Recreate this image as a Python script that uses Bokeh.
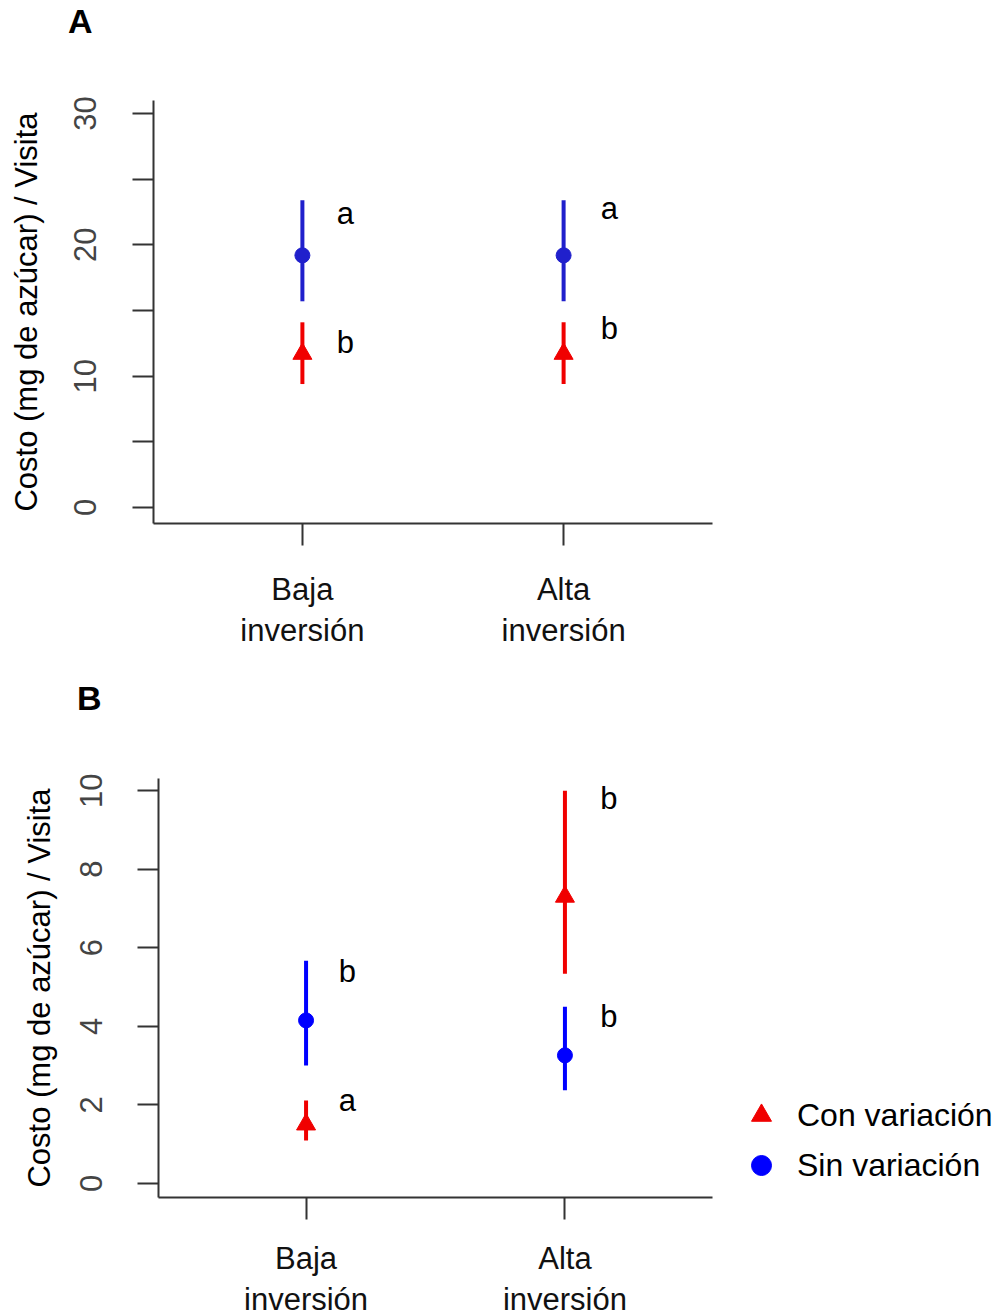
from bokeh.plotting import figure
from bokeh.layouts import column
from bokeh.models import ColumnDataSource, FixedTicker, Legend, LegendItem, Div
from bokeh.core.properties import value
from bokeh.embed import file_html
from bokeh.resources import INLINE

# ---------------- data ----------------
categories = ["Baja\ninversión", "Alta\ninversión"]
xpos = [1, 2]

# Panel A
a_sin_mean = [19.2, 19.2]
a_sin_lo = [15.7, 15.7]
a_sin_hi = [23.4, 23.4]
a_con_mean = [11.7, 11.7]
a_con_lo = [9.4, 9.4]
a_con_hi = [14.1, 14.1]
a_letters = ["a", "b", "a", "b"]
a_letter_x = [1.165, 1.165, 2.175, 2.175]
a_letter_y = [22.4, 12.6, 22.8, 13.6]

# Panel B
b_sin_mean = [4.15, 3.26]
b_sin_lo = [3.0, 2.37]
b_sin_hi = [5.67, 4.5]
b_con_mean = [1.5, 7.3]
b_con_lo = [1.09, 5.34]
b_con_hi = [2.11, 10.0]
b_letters = ["b", "a", "b", "b"]
b_letter_x = [1.16, 1.16, 2.17, 2.17]
b_letter_y = [5.4, 2.1, 9.8, 4.25]

FONT = "Liberation Sans"
FONT_V = value(FONT)
FS = "31px"
RED = "#f00000"


def make_panel(yr, ticks, labels_override, frame_w, frame_h, left, top, bottom,
               sin, con, letters, blue, xstand, tick_stand, lab_stand):
    p = figure(frame_width=frame_w, frame_height=frame_h,
               min_border_left=left, min_border_right=1000 - left - frame_w,
               min_border_top=top, min_border_bottom=bottom,
               x_range=(0.43, 2.57), y_range=yr,
               output_backend="svg", toolbar_location=None)
    p.outline_line_color = None
    p.grid.visible = False
    p.background_fill_color = "white"

    # axes
    p.xaxis.ticker = FixedTicker(ticks=xpos)
    p.xaxis.major_label_overrides = {1: categories[0], 2: categories[1]}
    p.yaxis.ticker = FixedTicker(ticks=ticks)
    p.yaxis.major_label_overrides = labels_override
    for ax in (p.xaxis[0], p.yaxis[0]):
        ax.axis_line_width = 2
        ax.axis_line_color = "#333333"
        ax.major_tick_line_width = 2
        ax.major_tick_line_color = "#333333"
        ax.major_tick_in = 0
        ax.minor_tick_line_color = None
        ax.major_label_text_font = FONT
        ax.major_label_text_font_size = FS
        ax.major_label_text_color = "#111111"
    p.xaxis.major_tick_out = 22
    p.xaxis.major_label_standoff = xstand
    p.xaxis.major_label_text_line_height = 1.18
    p.yaxis.major_tick_out = 21
    p.yaxis.major_label_standoff = tick_stand
    p.yaxis.major_label_orientation = "parallel"
    p.yaxis.major_label_text_color = "#444444"
    p.yaxis.axis_label = "Costo (mg de azúcar) / Visita"
    p.yaxis.axis_label_text_font = FONT
    p.yaxis.axis_label_text_font_size = FS
    p.yaxis.axis_label_text_font_style = "normal"
    p.yaxis.axis_label_text_color = "black"
    p.yaxis.axis_label_standoff = lab_stand

    # error bars
    s_sin = ColumnDataSource(dict(x=xpos, m=sin[0], lo=sin[1], hi=sin[2]))
    s_con = ColumnDataSource(dict(x=xpos, m=con[0], lo=con[1], hi=con[2]))
    p.segment(x0="x", y0="lo", x1="x", y1="hi", source=s_sin, line_color=blue, line_width=4)
    p.segment(x0="x", y0="lo", x1="x", y1="hi", source=s_con, line_color=RED, line_width=4)
    r_sin = p.scatter(x="x", y="m", source=s_sin, marker="circle", size=15,
                      fill_color=blue, line_color=blue)
    r_con = p.scatter(x="x", y="m", source=s_con, marker="triangle", size=19,
                      fill_color=RED, line_color=RED)

    # letters
    s_let = ColumnDataSource(dict(x=letters[1], y=letters[2], t=letters[0]))
    p.text(x="x", y="y", text="t", source=s_let, text_font=FONT_V, text_font_size=FS,
           text_align="center", text_baseline="middle", text_color="black")
    return p, r_sin, r_con


def panel_label(text, height, pad_top, pad_left):
    html = ('<div style="font-family: \'Liberation Sans\', Arial, sans-serif; font-weight: bold; '
            'font-size: 34px; line-height: 34px; margin: 0; padding: %dpx 0 0 %dpx; color: black;">%s</div>'
            % (pad_top, pad_left, text))
    return Div(text=html, width=1000, height=height, margin=0)


divA = panel_label("A", 40, 4, 68)
pA, _, _ = make_panel((-1.22, 30.99), [0, 5, 10, 15, 20, 25, 30],
                      {0: "0", 5: "", 10: "10", 15: "", 20: "20", 25: "", 30: "30"},
                      559, 423, 153, 60, 137,
                      (a_sin_mean, a_sin_lo, a_sin_hi), (a_con_mean, a_con_lo, a_con_hi),
                      (a_letters, a_letter_x, a_letter_y), "#2020cc",
                      26, 36, 28)

divB = panel_label("B", 60, 21, 77)
pB, rs, rc = make_panel((-0.36, 10.31), [0, 2, 4, 6, 8, 10], {},
                        554, 419, 158, 58, 119,
                        (b_sin_mean, b_sin_lo, b_sin_hi), (b_con_mean, b_con_lo, b_con_hi),
                        (b_letters, b_letter_x, b_letter_y), "#0000ff",
                        21, 35, 21)

legend = Legend(items=[LegendItem(label="Con variación", renderers=[rc]),
                       LegendItem(label="Sin variación", renderers=[rs])],
                location=(23, 7), border_line_color=None, background_fill_alpha=0,
                padding=0, margin=0, spacing=0, glyph_width=52, glyph_height=50,
                label_standoff=10, label_text_font=FONT, label_text_font_size="32px",
                label_text_color="black", label_text_baseline="middle")
pB.add_layout(legend, "right")

layout = column(divA, column(pA), divB, column(pB), spacing=0)
open("out.html", "w").write(file_html(layout, INLINE))
